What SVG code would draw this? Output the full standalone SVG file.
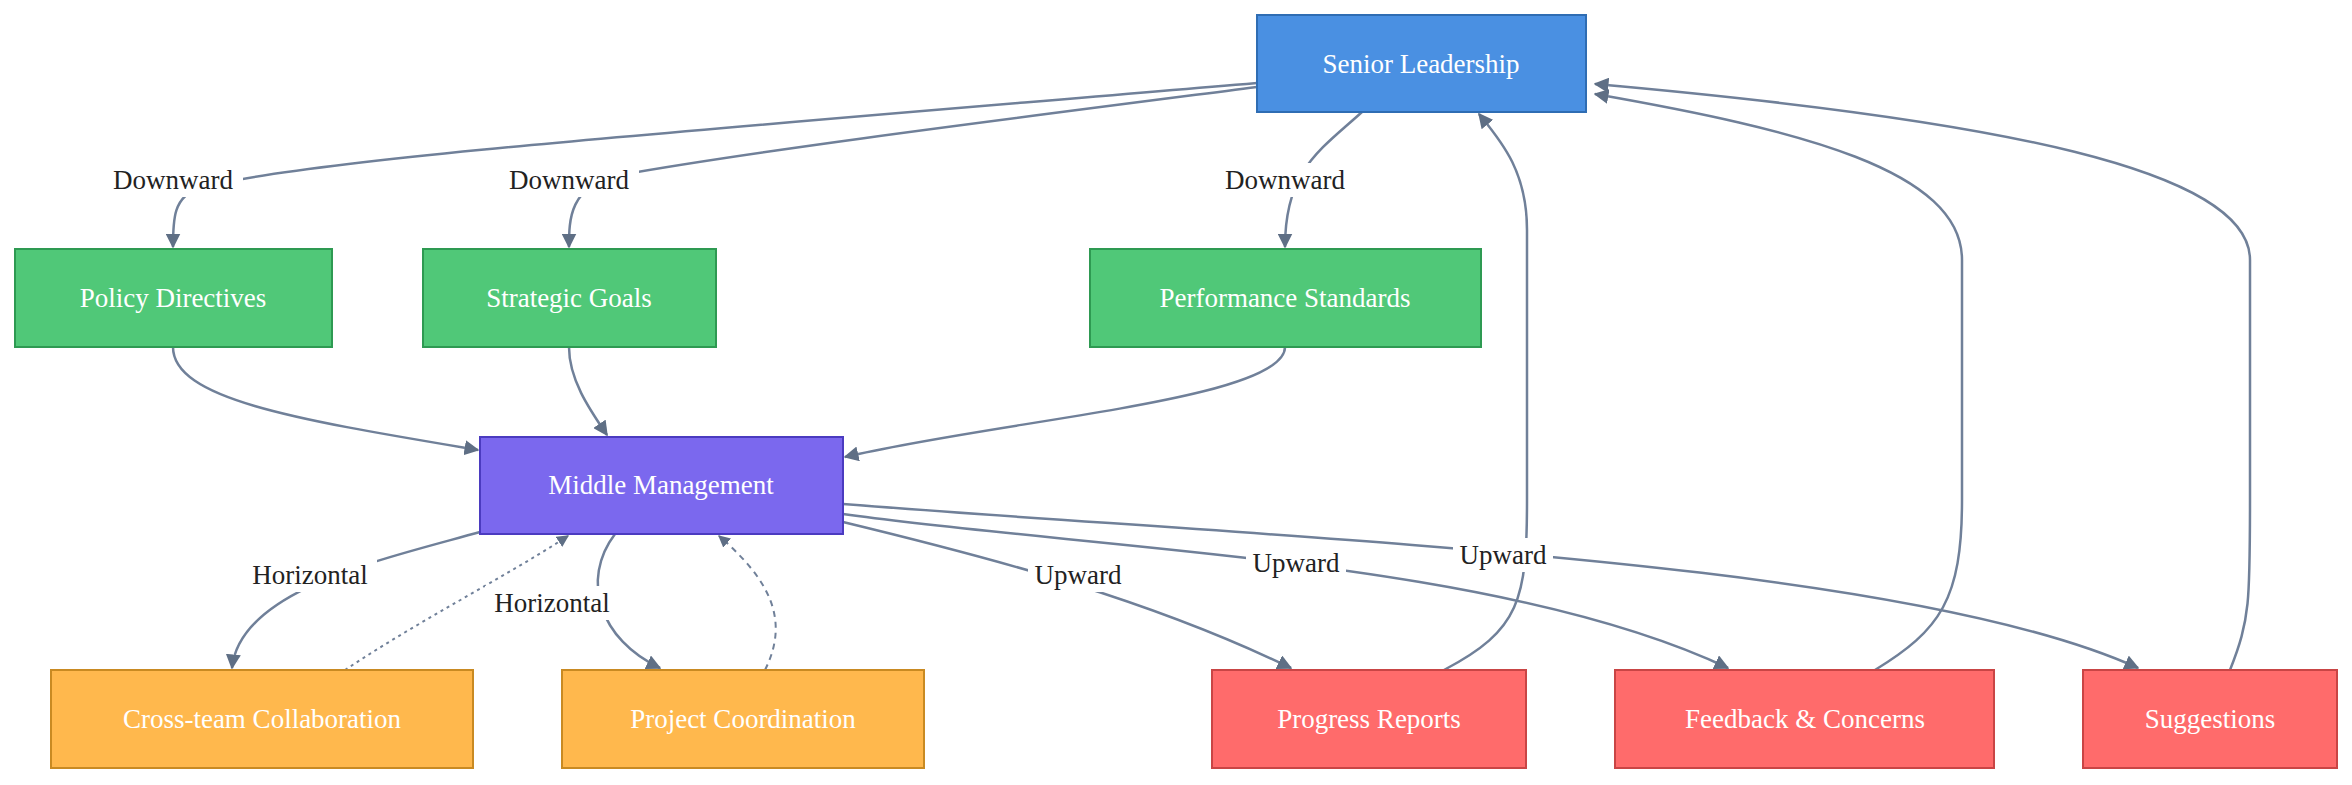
<svg xmlns="http://www.w3.org/2000/svg" width="2352" height="785" viewBox="0 0 2352 785">
<style>
.n text{font-family:"Liberation Serif",serif;font-size:27px;fill:#fff;text-anchor:middle;dominant-baseline:central}
.e path{fill:none;stroke:#708099;stroke-width:2.5}
.e .dot{stroke-dasharray:3 4;stroke-width:2}
.e .dash{stroke-dasharray:6 5;stroke-width:2}
.lb rect{fill:#fff}
.lb text{font-family:"Liberation Serif",serif;font-size:27px;fill:#222;text-anchor:middle;dominant-baseline:central}
</style>
<defs>
<marker id="a" viewBox="0 0 10 10" refX="9" refY="5" markerWidth="6" markerHeight="6" orient="auto"><path d="M0,0L10,5L0,10z" fill="#5f6f85"/></marker>
</defs>
<rect width="2352" height="785" fill="#fff"/>
<g class="e">
<path d="M1257,83 C700,130 300,160 200,188 C173,196 173,220 173,247" marker-end="url(#a)"/>
<path d="M1257,87 C1000,120 760,150 620,175 C569,185 569,220 569,247" marker-end="url(#a)"/>
<path d="M1362,112 C1320,150 1285,170 1285,247" marker-end="url(#a)"/>
<path d="M173,347 C173,400 300,420 478,450" marker-end="url(#a)"/>
<path d="M569,347 C569,380 590,410 607,435" marker-end="url(#a)"/>
<path d="M1285,347 C1285,400 1000,420 845,457" marker-end="url(#a)"/>
<path d="M480,532 C380,560 240,590 232,668" marker-end="url(#a)"/>
<path class="dot" d="M345,670 C420,620 500,580 568,536" marker-end="url(#a)"/>
<path d="M615,534 C580,580 600,640 660,668" marker-end="url(#a)"/>
<path class="dash" d="M765,670 C790,620 770,580 719,536" marker-end="url(#a)"/>
<path d="M843,522 C1000,560 1150,600 1291,668" marker-end="url(#a)"/>
<path d="M843,514 C1100,550 1500,560 1728,668" marker-end="url(#a)"/>
<path d="M843,504 C1300,540 1900,560 2138,668" marker-end="url(#a)"/>
<path d="M1444,670 C1520,630 1527,600 1527,500 L1527,230 C1527,170 1500,140 1479,114" marker-end="url(#a)"/>
<path d="M1875,670 C1940,630 1962,600 1962,500 L1962,260 C1962,170 1800,130 1595,94" marker-end="url(#a)"/>
<path d="M2230,670 C2250,620 2250,600 2250,500 L2250,260 C2250,170 2000,120 1595,84" marker-end="url(#a)"/>
</g>
<g class="lb">
<rect x="103" y="163" width="140" height="34"/><text x="173" y="180">Downward</text>
<rect x="499" y="163" width="140" height="34"/><text x="569" y="180">Downward</text>
<rect x="1215" y="163" width="140" height="34"/><text x="1285" y="180">Downward</text>
<rect x="243" y="558" width="134" height="34"/><text x="310" y="575">Horizontal</text>
<rect x="485" y="586" width="134" height="34"/><text x="552" y="603">Horizontal</text>
<rect x="1028" y="558" width="100" height="34"/><text x="1078" y="575">Upward</text>
<rect x="1246" y="546" width="100" height="34"/><text x="1296" y="563">Upward</text>
<rect x="1453" y="538" width="100" height="34"/><text x="1503" y="555">Upward</text>
</g>
<g class="n" id="senior"><rect x="1257" y="15" width="329" height="97" fill="#4a90e2" stroke="#2f6db3" stroke-width="2"/><text x="1421" y="64">Senior Leadership</text></g>
<g class="n" id="policy"><rect x="15" y="249" width="317" height="98" fill="#50c878" stroke="#2e9a52" stroke-width="2"/><text x="173" y="298">Policy Directives</text></g>
<g class="n" id="strategic"><rect x="423" y="249" width="293" height="98" fill="#50c878" stroke="#2e9a52" stroke-width="2"/><text x="569" y="298">Strategic Goals</text></g>
<g class="n" id="performance"><rect x="1090" y="249" width="391" height="98" fill="#50c878" stroke="#2e9a52" stroke-width="2"/><text x="1285" y="298">Performance Standards</text></g>
<g class="n" id="middle"><rect x="480" y="437" width="363" height="97" fill="#7b68ee" stroke="#4b3bc0" stroke-width="2"/><text x="661" y="485">Middle Management</text></g>
<g class="n" id="cross"><rect x="51" y="670" width="422" height="98" fill="#ffb84d" stroke="#c98a22" stroke-width="2"/><text x="262" y="719">Cross-team Collaboration</text></g>
<g class="n" id="project"><rect x="562" y="670" width="362" height="98" fill="#ffb84d" stroke="#c98a22" stroke-width="2"/><text x="743" y="719">Project Coordination</text></g>
<g class="n" id="progress"><rect x="1212" y="670" width="314" height="98" fill="#ff6b6b" stroke="#c94545" stroke-width="2"/><text x="1369" y="719">Progress Reports</text></g>
<g class="n" id="feedback"><rect x="1615" y="670" width="379" height="98" fill="#ff6b6b" stroke="#c94545" stroke-width="2"/><text x="1805" y="719">Feedback &amp; Concerns</text></g>
<g class="n" id="suggestions"><rect x="2083" y="670" width="254" height="98" fill="#ff6b6b" stroke="#c94545" stroke-width="2"/><text x="2210" y="719">Suggestions</text></g>
</svg>
